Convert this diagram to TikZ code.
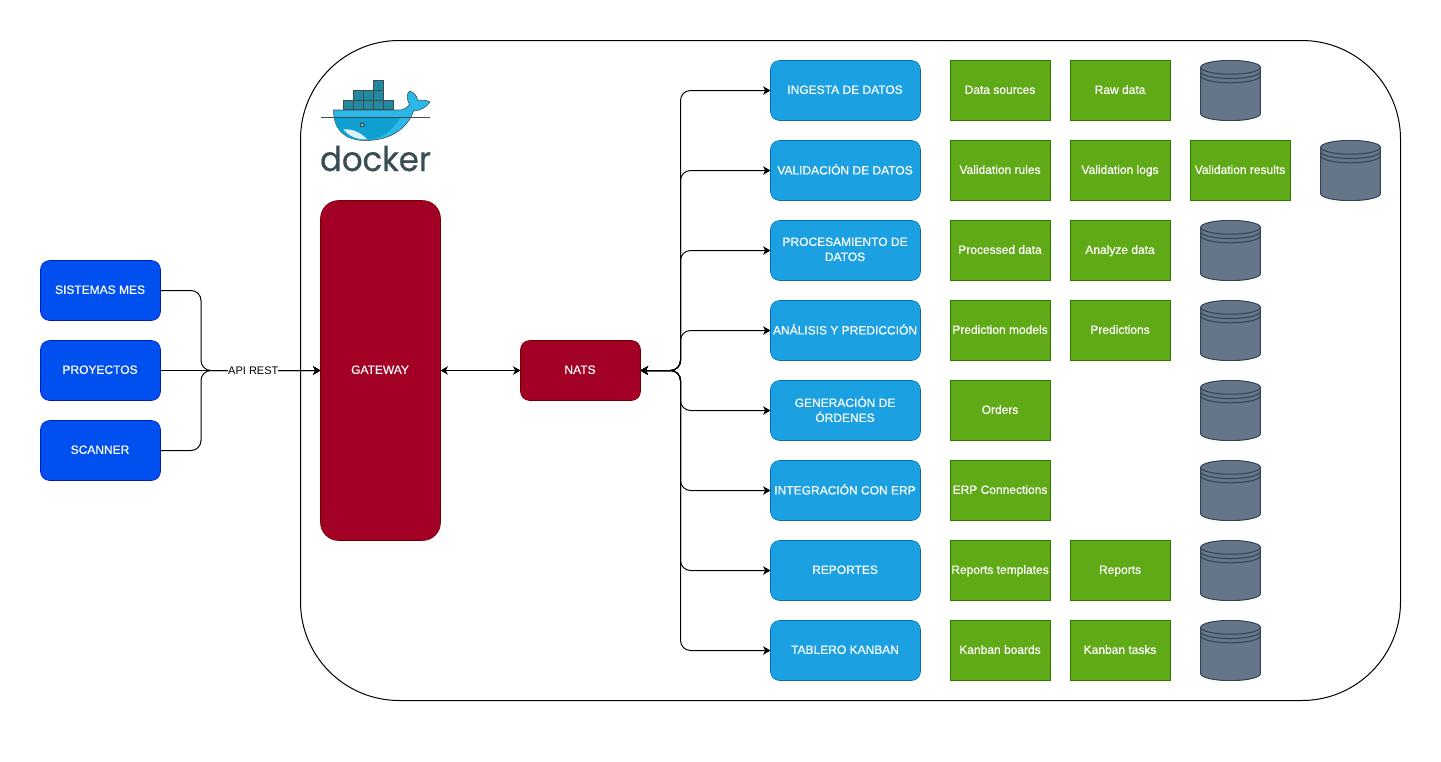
\documentclass[tikz,border=0pt]{standalone}
\usepackage{fontspec}
\setmainfont[FakeBold=0.4]{Liberation Sans}
\newfontfamily\plainfont{Liberation Sans}
\newfontfamily\logofont[FakeBold=0.6]{Poppins}
\usepackage{xcolor}
\usetikzlibrary{arrows.meta, positioning}
\definecolor{cobalt}{HTML}{0050EF}
\definecolor{cobaltline}{HTML}{001DBC}
\definecolor{skyfill}{HTML}{1BA1E2}
\definecolor{skyline}{HTML}{006EAF}
\definecolor{leaf}{HTML}{60A917}
\definecolor{leafline}{HTML}{2D7600}
\definecolor{crimson}{HTML}{A20025}
\definecolor{crimsonline}{HTML}{6F0000}
\definecolor{slate}{HTML}{647687}
\definecolor{slateline}{HTML}{314354}
\definecolor{logoink}{HTML}{394D54}
\definecolor{logolight}{HTML}{2BB8E8}
\definecolor{logodeep}{HTML}{0F9FD0}
\definecolor{logocrate}{HTML}{23899F}
\newcommand{\nodetop}{\rule{0pt}{6.9pt}}
\newcommand{\nodebottom}{\rule[-1.9pt]{0pt}{1.9pt}\kern0.7pt}

\begin{document}
\begin{tikzpicture}[
    x=0.75pt, y=-0.75pt,
    node distance=15pt and 22.5pt,
    every node/.style={font=\fontsize{9}{11.25}\selectfont, outer sep=0pt, inner sep=0pt, align=center},
    source/.style={rectangle, draw=cobaltline, fill=cobalt, text=white, rounded corners=6.75pt, minimum width=90pt, minimum height=45pt, execute at begin node=\nodetop, execute at end node=\nodebottom},
    broker/.style={rectangle, draw=crimsonline, fill=crimson, text=white, rounded corners=6.75pt, minimum width=90pt, minimum height=45pt, execute at begin node=\nodetop, execute at end node=\nodebottom},
    service/.style={rectangle, draw=skyline, fill=skyfill, text=white, rounded corners=6.75pt, minimum width=112.5pt, minimum height=45pt, execute at begin node=\nodetop, execute at end node=\nodebottom},
    table/.style={rectangle, draw=leafline, fill=leaf, text=white, minimum width=75pt, minimum height=45pt, execute at begin node=\nodetop, execute at end node=\nodebottom},
    datastore/.style={rectangle, minimum width=45.6pt, minimum height=45.6pt, path picture={
        \begin{scope}[shift={(path picture bounding box.center)}, draw=slateline, line width=0.75pt]
            \draw[fill=slate] (-22.4pt,17.4pt) arc[start angle=180, end angle=0, x radius=22.4pt, y radius=5.2pt] -- (22.4pt,-17.4pt) arc[start angle=0, end angle=-180, x radius=22.4pt, y radius=5.2pt] -- cycle;
            \draw (-22.4pt,17.4pt) arc[start angle=180, end angle=360, x radius=22.4pt, y radius=5.2pt];
            \draw (-22.4pt,14.2pt) arc[start angle=180, end angle=360, x radius=22.4pt, y radius=5.2pt];
            \draw (-22.4pt,11pt) arc[start angle=180, end angle=360, x radius=22.4pt, y radius=5.2pt];
        \end{scope}}},
    arrow/.style={-{Stealth[length=5.6pt, width=6.4pt, inset=1.6pt]}, line width=0.75pt, draw=black},
    twoway/.style={{Stealth[length=5.6pt, width=6.4pt, inset=1.6pt]}-{Stealth[length=5.6pt, width=6.4pt, inset=1.6pt]}, line width=0.75pt, draw=black},
    crate/.style={draw=logoink, line width=0.5pt, fill=logocrate}
]
    \useasboundingbox (-0.5,-0.5) rectangle (1440.5,760.5);

    \node (stack) [rectangle, draw=black, fill=white, line width=0.75pt, rounded corners=74pt, minimum width=825pt, minimum height=495pt] at (850,370) {};

    \fill[logolight, draw=logoink, line width=0.4pt] (333,109.5) -- (397,109.5) .. controls (402,110) and (406,108) .. (409,104) .. controls (406,99) and (406,93) .. (409,90.5) .. controls (414,92) and (417,96) .. (417,100) .. controls (421,99) and (426,99.5) .. (429.5,101.5) .. controls (426,107) and (420,110) .. (413,110.5) .. controls (408,126) and (392,140) .. (365,140) .. controls (345,140) and (333,130) .. (333,109.5) -- cycle;
    \fill[logodeep] (334,117) -- (400,117) .. controls (392,130) and (380,139.5) .. (365,139.5) .. controls (346,139.5) and (335,130) .. (334,117) -- cycle;
    \fill[white!85!logodeep] (343,129) .. controls (352,128) and (360,132) .. (367,139) .. controls (356,139) and (349,136) .. (343,129) -- cycle;
    \draw[logoink, line width=0.5pt] (320,117) -- (429,117);
    \fill[logoink] (361.7,124.3) circle (2.4);
    \fill[white] (361.7,124.3) circle (1);

    \draw[crate] (372.5,80) rectangle (382.7,89.8);
    \draw[crate] (352.5,89.8) rectangle (362.5,99.5);
    \draw[crate] (362.5,89.8) rectangle (372.5,99.5);
    \draw[crate] (372.5,89.8) rectangle (382.7,99.5);
    \draw[crate] (342.4,99.5) rectangle (352.5,109.3);
    \draw[crate] (352.5,99.5) rectangle (362.5,109.3);
    \draw[crate] (362.5,99.5) rectangle (372.5,109.3);
    \draw[crate] (372.5,99.5) rectangle (382.7,109.3);
    \draw[crate] (382.7,99.5) rectangle (392.7,109.3);

    \node (wordmark) [font=\logofont\fontsize{25.5}{25.5}\selectfont, text=logoink, anchor=base, xscale=0.95] at (375,170.5) {docker};

    \node (gateway) [broker, rounded corners=13.5pt, minimum height=255pt] at (380,370) {GATEWAY};
    \node (nats) [broker, right=60pt of gateway] {NATS};

    \node (proyectos) [source] at (100,370) {PROYECTOS};
    \node (mes) [source, above=of proyectos] {SISTEMAS MES};
    \node (scanner) [source, below=of proyectos] {SCANNER};

    \node (ingesta) [service] at (845,90) {INGESTA DE DATOS};
    \node (validacion) [service, below=of ingesta] {VALIDACIÓN DE DATOS};
    \node (procesamiento) [service, below=of validacion] {PROCESAMIENTO DE\\DATOS};
    \node (analisis) [service, below=of procesamiento] {ANÁLISIS Y PREDICCIÓN};
    \node (generacion) [service, below=of analisis] {GENERACIÓN DE\\ÓRDENES};
    \node (integracion) [service, below=of generacion] {INTEGRACIÓN CON ERP};
    \node (reportes) [service, below=of integracion] {REPORTES};
    \node (kanban) [service, below=of reportes] {TABLERO KANBAN};

    \node (sources) [table, right=of ingesta] {Data sources};
    \node (rawdata) [table, right=15pt of sources] {Raw data};
    \node (ingestadb) [datastore, right=22.2pt of rawdata] {};

    \node (rules) [table, right=of validacion] {Validation rules};
    \node (logs) [table, right=15pt of rules] {Validation logs};
    \node (results) [table, right=15pt of logs] {Validation results};
    \node (validaciondb) [datastore, right=22.2pt of results] {};

    \node (processed) [table, right=of procesamiento] {Processed data};
    \node (analyze) [table, right=15pt of processed] {Analyze data};
    \node (procesamientodb) [datastore, right=22.2pt of analyze] {};

    \node (models) [table, right=of analisis] {Prediction models};
    \node (predictions) [table, right=15pt of models] {Predictions};
    \node (analisisdb) [datastore, right=22.2pt of predictions] {};

    \node (orders) [table, right=of generacion] {Orders};
    \node (generaciondb) [datastore] at (ingestadb |- generacion) {};

    \node (connections) [table, right=of integracion] {ERP Connections};
    \node (integraciondb) [datastore] at (ingestadb |- integracion) {};

    \node (templates) [table, right=of reportes] {Reports templates};
    \node (reports) [table, right=15pt of templates] {Reports};
    \node (reportesdb) [datastore, right=22.2pt of reports] {};

    \node (boards) [table, right=of kanban] {Kanban boards};
    \node (tasks) [table, right=15pt of boards] {Kanban tasks};
    \node (kanbandb) [datastore, right=22.2pt of tasks] {};

    \coordinate (apifork) at (200.5,370);
    \coordinate (natsfork) at (680,370);

    \draw [arrow, rounded corners=7.5pt] (mes.east) -- (apifork |- mes) -- (apifork) -- (gateway.west);
    \draw [arrow, rounded corners=7.5pt] (scanner.east) -- (apifork |- scanner) -- (apifork) -- (gateway.west);
    \draw [arrow] (proyectos) -- node (apirest) [fill=white, pos=0.58, font=\plainfont\fontsize{8.25}{10}\selectfont] {API REST} (gateway);
    \draw [twoway] (gateway) -- (nats);

    \draw [twoway, rounded corners=7.5pt] (nats.east) -- (natsfork) -- (natsfork |- ingesta) -- (ingesta.west);
    \draw [twoway, rounded corners=7.5pt] (nats.east) -- (natsfork) -- (natsfork |- validacion) -- (validacion.west);
    \draw [twoway, rounded corners=7.5pt] (nats.east) -- (natsfork) -- (natsfork |- procesamiento) -- (procesamiento.west);
    \draw [twoway, rounded corners=7.5pt] (nats.east) -- (natsfork) -- (natsfork |- analisis) -- (analisis.west);
    \draw [twoway, rounded corners=7.5pt] (nats.east) -- (natsfork) -- (natsfork |- generacion) -- (generacion.west);
    \draw [twoway, rounded corners=7.5pt] (nats.east) -- (natsfork) -- (natsfork |- integracion) -- (integracion.west);
    \draw [twoway, rounded corners=7.5pt] (nats.east) -- (natsfork) -- (natsfork |- reportes) -- (reportes.west);
    \draw [twoway, rounded corners=7.5pt] (nats.east) -- (natsfork) -- (natsfork |- kanban) -- (kanban.west);
\end{tikzpicture}
\end{document}
